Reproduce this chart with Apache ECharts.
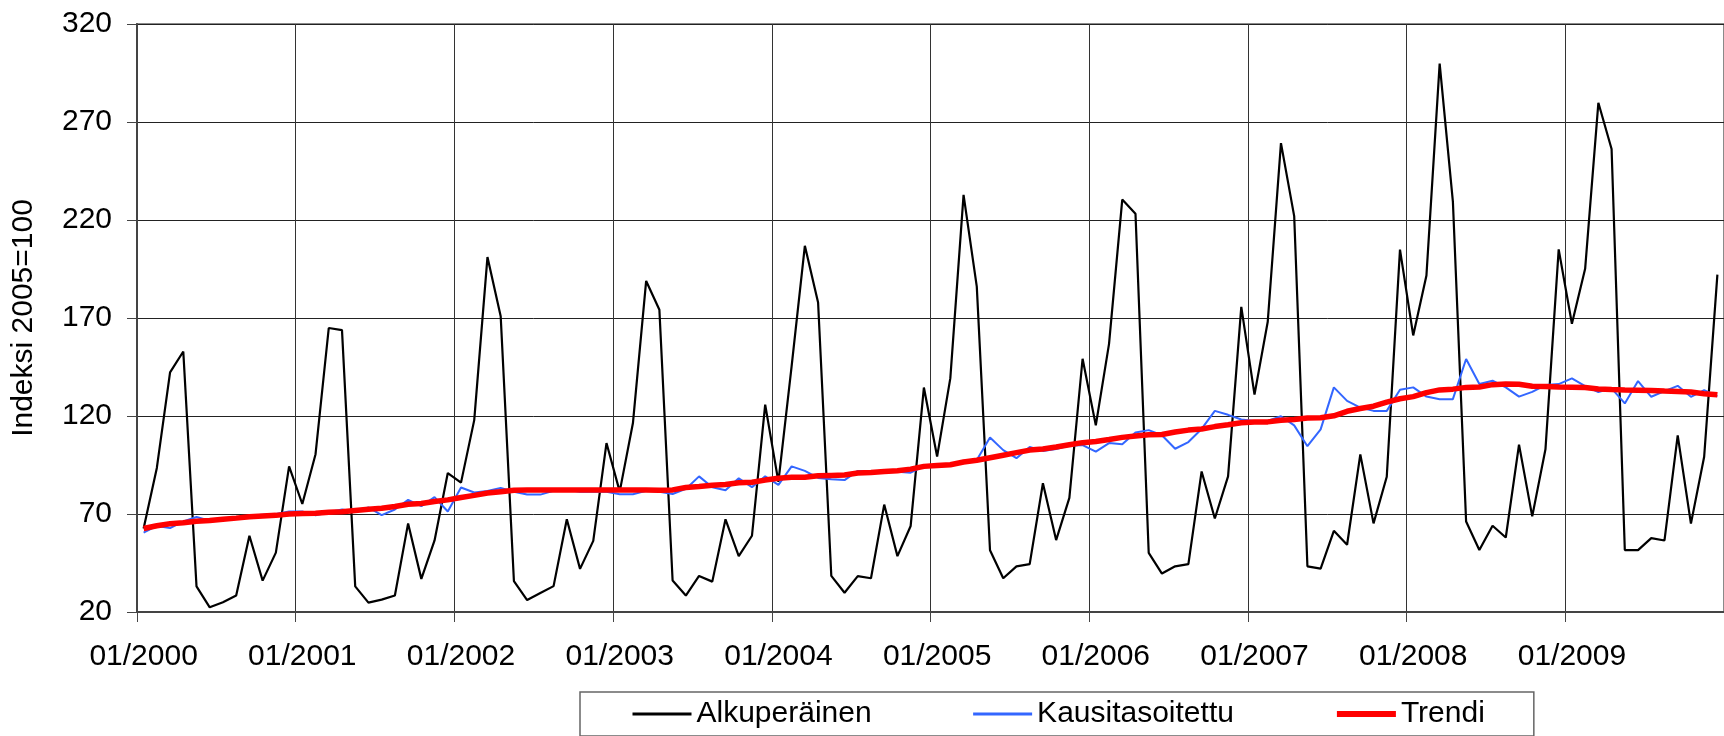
<!DOCTYPE html>
<html>
<head>
<meta charset="utf-8">
<script src="https://cdn.jsdelivr.net/npm/echarts@6/dist/echarts.min.js"></script>
<style>
html,body{margin:0;padding:0;background:#fff;}
#chart{width:1724px;height:736px;}
</style>
</head>
<body>
<div id="chart"></div>
<script>
// ---- Data ----
var years = [2000,2001,2002,2003,2004,2005,2006,2007,2008,2009];
var months = ['01','02','03','04','05','06','07','08','09','10','11','12'];
var categories = [];
years.forEach(function(y){ months.forEach(function(m){ categories.push(m + '/' + y); }); });

var seriesNames = ['Alkuperäinen', 'Kausitasoitettu', 'Trendi'];

var alkuperainen = [
  62.6, 93.5, 142.3, 152.9, 33.1, 22.4, 25.0, 28.4, 58.9, 36.0, 50.3, 94.3,
  75.1, 100.5, 164.9, 163.8, 33.1, 24.8, 26.3, 28.4, 65.2, 36.9, 56.5, 90.9,
  86.0, 117.9, 201.1, 170.9, 35.8, 26.1, 29.7, 33.2, 67.3, 42.0, 56.3, 106.2,
  81.4, 116.4, 188.9, 174.2, 36.1, 28.4, 38.4, 35.5, 67.3, 48.5, 58.9, 125.8,
  86.4, 145.5, 206.8, 177.9, 38.4, 29.8, 38.3, 37.2, 74.8, 48.5, 63.9, 134.5,
  99.3, 139.3, 232.8, 186.0, 51.5, 37.2, 43.3, 44.4, 85.7, 56.7, 78.2, 149.2,
  115.2, 156.8, 230.4, 223.2, 50.2, 39.6, 43.3, 44.4, 91.7, 67.7, 89.2, 175.7,
  130.9, 168.1, 259.2, 222.0, 43.3, 42.1, 61.4, 54.3, 100.4, 65.2, 89.0, 204.9,
  161.1, 191.7, 299.8, 229.4, 66.2, 51.6, 64.0, 58.0, 105.4, 68.8, 103.0, 205.0,
  167.1, 195.1, 279.8, 256.2, 51.6, 51.6, 57.7, 56.5, 110.1, 65.1, 99.2, 192.1
];

var kausitasoitettu = [
  60.5, 63.9, 62.8, 66.2, 68.5, 66.6, 67.2, 68.1, 69.1, 69.6, 70.0, 71.3,
  71.3, 69.4, 70.9, 72.3, 71.3, 73.4, 69.4, 72.3, 77.2, 74.0, 78.6, 71.3,
  83.5, 81.0, 81.8, 83.3, 81.4, 79.9, 79.9, 81.8, 82.4, 81.4, 81.4, 81.4,
  80.1, 80.1, 81.8, 81.4, 80.2, 82.8, 89.2, 83.6, 82.1, 88.2, 83.7, 89.2,
  84.9, 94.3, 92.0, 88.4, 87.7, 87.3, 92.0, 92.0, 92.0, 91.5, 91.1, 94.3,
  94.8, 95.1, 97.2, 97.6, 109.0, 102.6, 98.5, 104.2, 102.2, 103.1, 104.9, 105.1,
  101.8, 106.2, 105.6, 111.6, 112.8, 110.2, 103.3, 106.7, 113.4, 122.6, 120.6, 118.2,
  117.5, 117.5, 119.9, 115.2, 104.6, 113.2, 134.6, 127.7, 124.3, 122.6, 122.6, 133.4,
  134.6, 129.9, 128.6, 128.6, 149.1, 136.3, 138.0, 134.6, 129.9, 132.3, 135.8, 136.3,
  139.2, 135.3, 132.2, 134.1, 126.4, 137.8, 129.8, 132.7, 135.4, 129.8, 133.2, 130.0
];

var trendi = [
  62.6, 64.0, 65.0, 65.5, 66.3, 66.7, 67.3, 67.9, 68.6, 69.0, 69.3, 70.0,
  70.3, 70.4, 70.9, 71.2, 71.8, 72.4, 72.9, 73.8, 75.0, 75.4, 76.4, 77.2,
  78.4, 79.5, 80.7, 81.4, 82.1, 82.2, 82.2, 82.2, 82.2, 82.2, 82.2, 82.2,
  82.2, 82.2, 82.2, 82.1, 82.3, 83.5, 84.0, 84.7, 85.0, 85.9, 86.2, 87.3,
  88.2, 88.7, 88.8, 89.5, 89.7, 89.9, 90.9, 91.2, 91.7, 92.1, 92.9, 94.3,
  94.7, 95.1, 96.5, 97.4, 98.7, 100.0, 101.3, 102.6, 103.2, 104.2, 105.3, 106.4,
  107.0, 108.0, 109.1, 109.8, 110.4, 110.6, 111.8, 112.8, 113.4, 114.6, 115.5, 116.6,
  116.9, 117.0, 117.8, 118.2, 119.0, 119.1, 120.1, 122.4, 123.8, 125.0, 127.1, 128.8,
  129.9, 131.9, 133.3, 133.7, 134.6, 134.8, 136.0, 136.3, 136.2, 135.2, 135.0, 134.8,
  134.7, 134.5, 133.8, 133.5, 133.3, 133.2, 133.0, 132.7, 132.5, 132.2, 131.4, 130.8
];

var yTitle = 'Indeksi 2005=100';
var yMin = 20, yMax = 320, yStep = 50;

// ---- Chart ----
var FONT = 'Liberation Sans, Arial, sans-serif';
var chart = echarts.init(document.getElementById('chart'), null, {renderer: 'canvas'});
chart.setOption({
  animation: false,
  backgroundColor: '#ffffff',
  textStyle: {fontFamily: FONT, color: '#000'},
  grid: {
    left: 137, top: 24, width: 1593.6, height: 588,
    show: true, borderColor: '#8a8a8a', borderWidth: 2, backgroundColor: 'transparent'
  },
  legend: {
    data: [
      {name: seriesNames[0], lineStyle: {width: 3}},
      {name: seriesNames[1], lineStyle: {width: 3}},
      {name: seriesNames[2], lineStyle: {width: 6}}
    ],
    left: 580, top: 692,
    padding: [7, 49, 7, 51],
    itemGap: 100,
    itemWidth: 59, itemHeight: 14,
    borderColor: '#666', borderWidth: 1.5,
    itemStyle: {opacity: 0},
    textStyle: {fontFamily: FONT, fontSize: 30, color: '#000', padding: [0,0,0,0]}
  },
  xAxis: {
    type: 'category',
    data: categories,
    boundaryGap: true,
    axisLine: {show: true, lineStyle: {color: '#444', width: 2}},
    axisTick: {show: true, interval: 11, length: 10, inside: false, alignWithLabel: false, lineStyle: {color: '#444', width: 1}},
    axisLabel: {interval: 11, margin: 30, fontSize: 30, fontFamily: FONT, color: '#000'},
    splitLine: {show: true, interval: 11, lineStyle: {color: '#333', width: 1}}
  },
  yAxis: {
    type: 'value',
    min: yMin, max: yMax, interval: yStep,
    name: yTitle,
    nameLocation: 'middle',
    nameGap: 98,
    nameRotate: 90,
    nameTextStyle: {fontSize: 30, fontFamily: FONT, color: '#000'},
    axisLine: {show: true, lineStyle: {color: '#444', width: 2}},
    axisTick: {show: true, length: 10, lineStyle: {color: '#444', width: 1}},
    axisLabel: {margin: 25, fontSize: 30, fontFamily: FONT, color: '#000'},
    splitLine: {show: true, lineStyle: {color: '#222', width: 1}}
  },
  series: [
    {name: seriesNames[0], type: 'line', data: alkuperainen, symbol: 'none', showSymbol: false,
     lineStyle: {color: '#000000', width: 2.2}, itemStyle: {color: '#000000'}, z: 2},
    {name: seriesNames[1], type: 'line', data: kausitasoitettu, symbol: 'none', showSymbol: false,
     lineStyle: {color: '#3366ff', width: 2}, itemStyle: {color: '#3366ff'}, z: 3},
    {name: seriesNames[2], type: 'line', data: trendi, symbol: 'none', showSymbol: false,
     lineStyle: {color: '#ff0000', width: 5.5}, itemStyle: {color: '#ff0000'}, z: 4}
  ]
});
</script>
</body>
</html>
